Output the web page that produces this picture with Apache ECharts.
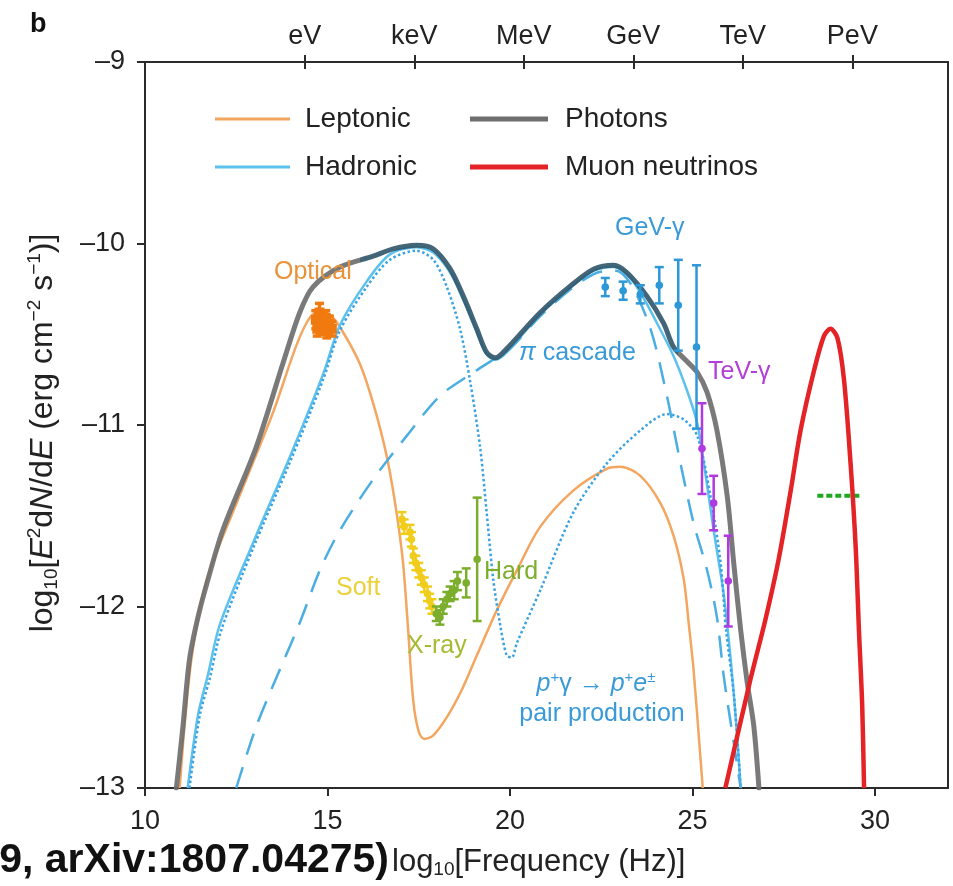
<!DOCTYPE html>
<html><head><meta charset="utf-8">
<script src="https://cdn.jsdelivr.net/npm/echarts@6/dist/echarts.min.js"></script>
<style>html,body{margin:0;padding:0;background:#fff}#c{width:953px;height:886px}</style>
</head><body><div id="c"></div>
<script>
const FONT = '"Liberation Sans", Arial, Helvetica, sans-serif';

// bottom frequency axis ticks
const freqTicks = [10, 15, 20, 25, 30];
// top energy axis
const energyTicks = [14.38, 17.38, 20.38, 23.38, 26.38, 29.38];
const energyLabels = ['eV', 'keV', 'MeV', 'GeV', 'TeV', 'PeV'];

// model curves [log10 freq, log10 E^2 dN/dE]
const leptonic = [[10.95,-13],[11.1,-12.62],[11.3,-12.25],[11.68,-11.86],[12.59,-11.39],[13.51,-10.93],[14.15,-10.56],[14.51,-10.41],[14.79,-10.37],[15.05,-10.39],[15.34,-10.46],[15.88,-10.66],[16.25,-10.88],[16.62,-11.17],[16.89,-11.48],[17.07,-11.76],[17.21,-12.13],[17.35,-12.52],[17.5,-12.69],[17.65,-12.73],[17.9,-12.71],[18.3,-12.6],[18.7,-12.45],[19.09,-12.27],[19.64,-12.02],[20.19,-11.8],[20.83,-11.56],[21.74,-11.36],[22.66,-11.24],[23.02,-11.23],[23.57,-11.28],[24.12,-11.43],[24.48,-11.61],[24.76,-11.85],[24.9,-12.1],[25.03,-12.35],[25.22,-12.84],[25.28,-13]];
const hadronic = [[11.17,-13],[11.45,-12.6],[11.72,-12.38],[12.05,-12.1],[12.98,-11.64],[13.96,-11.18],[14.88,-10.72],[15.34,-10.45],[16.07,-10.21],[16.71,-10.06],[17.44,-10.02],[17.9,-10.05],[18.36,-10.16],[18.72,-10.31],[19.09,-10.49],[19.36,-10.61],[19.6,-10.64],[19.91,-10.6],[20.83,-10.39],[21.74,-10.23],[22.3,-10.15],[22.84,-10.13],[23.2,-10.17],[23.57,-10.27],[24.03,-10.44],[24.48,-10.62],[24.85,-10.81],[25.13,-10.99],[25.31,-11.21],[25.58,-11.58],[25.86,-11.94],[26.05,-12.3],[26.2,-12.65],[26.32,-13]];
const pairProd = [[11.22,-13],[11.5,-12.6],[11.77,-12.4],[12.09,-12.13],[12.98,-11.67],[13.96,-11.21],[14.88,-10.75],[15.34,-10.48],[16.07,-10.24],[16.71,-10.09],[17.44,-10.04],[17.9,-10.09],[18.27,-10.24],[18.63,-10.47],[18.9,-10.75],[19.18,-11.12],[19.36,-11.48],[19.54,-11.85],[19.73,-12.1],[19.91,-12.27],[20.05,-12.28],[20.19,-12.2],[20.83,-11.91],[21.74,-11.48],[22.66,-11.21],[23.57,-11.03],[24.3,-10.94],[24.76,-10.97],[25.13,-11.06],[25.49,-11.39],[25.77,-11.76],[25.92,-12.13],[26.13,-12.48],[26.32,-13]];
const piCascade = [[12.5,-13],[13.05,-12.66],[13.69,-12.35],[14.24,-12.09],[14.79,-11.8],[15.34,-11.58],[16.25,-11.3],[17.17,-11.06],[18.08,-10.84],[19.0,-10.71],[19.54,-10.64],[20.0,-10.58],[20.83,-10.4],[21.74,-10.24],[22.4,-10.16],[22.9,-10.15],[23.3,-10.22],[23.85,-10.47],[24.3,-10.84],[24.67,-11.21],[25.03,-11.54],[25.4,-11.8],[25.67,-12.06],[25.86,-12.39],[26.13,-12.75],[26.32,-13]];
const photons = [[10.86,-13],[11.04,-12.66],[11.22,-12.29],[11.45,-12.06],[11.7,-11.87],[12.13,-11.58],[13.05,-11.12],[13.78,-10.66],[14.24,-10.38],[14.6,-10.24],[15.34,-10.13],[16.25,-10.07],[16.8,-10.03],[17.44,-10.01],[17.9,-10.03],[18.36,-10.14],[18.72,-10.29],[19.09,-10.47],[19.36,-10.6],[19.6,-10.63],[19.91,-10.58],[20.83,-10.38],[21.74,-10.22],[22.3,-10.14],[22.84,-10.12],[23.2,-10.16],[23.75,-10.29],[24.21,-10.44],[24.48,-10.57],[24.85,-10.65],[25.13,-10.71],[25.4,-10.82],[25.67,-11.03],[25.95,-11.39],[26.13,-11.76],[26.32,-12.13],[26.5,-12.42],[26.68,-12.66],[26.82,-13]];
const neutrinos = [[25.9,-13],[26.59,-12.4],[27.0,-12.07],[27.36,-11.74],[27.7,-11.35],[27.96,-11.03],[28.33,-10.7],[28.6,-10.51],[28.78,-10.47],[28.97,-10.52],[29.15,-10.75],[29.33,-11.21],[29.47,-11.67],[29.56,-12.13],[29.65,-12.55],[29.7,-13]];
const nuLimit = [[28.42,-11.39],[29.61,-11.39]];

// data points [x, y, error]
const optical = [[14.68,-10.42,0.05],[14.78,-10.38,0.05],[14.85,-10.45,0.05],[14.95,-10.41,0.04],[15.05,-10.44,0.04],[15.12,-10.47,0.04],[14.72,-10.47,0.04],[14.98,-10.48,0.04]];
const softX = [[17.04,-11.52,0.04],[17.1,-11.56,0.04],[17.26,-11.59,0.04],[17.3,-11.63,0.04],[17.35,-11.72,0.04],[17.42,-11.76,0.04],[17.5,-11.8,0.04],[17.57,-11.84,0.04],[17.65,-11.88,0.04],[17.74,-11.93,0.04],[17.8,-11.97,0.04],[17.86,-12.0,0.04]];
const hardX = [[17.98,-12.04,0.04],[18.08,-12.06,0.04],[18.17,-12.0,0.04],[18.27,-11.96,0.04],[18.36,-11.93,0.04],[18.47,-11.91,0.05],[18.56,-11.86,0.05],[18.8,-11.87,0.08],[19.1,-11.74,0.34]];
const gevGamma = [[22.61,-10.24,0.05],[23.1,-10.26,0.05],[23.57,-10.28,0.05],[24.09,-10.23,0.1],[24.61,-10.34,0.25],[25.11,-10.57,0.45]];
const tevGamma = [[25.26,-11.13,0.25],[25.58,-11.43,0.15],[25.98,-11.86,0.25]];

const C = {
  lep: '#f2a660', had: '#5cc1ec', pair: '#3aa2e2', casc: '#4aaee2', pho: '#6e6e6e', phoDark: '#33586c',
  nu: '#e32326', lim: '#1fa81f', opt: '#f07a10', soft: '#f0cc1c', hard: '#7bae2c', gev: '#2c98d8', tev: '#b03ae0'
};

function errSeries(name, data, color, square) {
  return {
    type: 'custom', name, data, z: 5,
    encode: { x: 0, y: 1 },
    renderItem: function (params, api) {
      const x = api.value(0), y = api.value(1), e = api.value(2);
      const p = api.coord([x, y]);
      const t = api.coord([x, y + e]);
      const b = api.coord([x, y - e]);
      const cw = 4.5;
      const st = { stroke: color, lineWidth: square ? 3.5 : 2.5 };
      const ch = [
        { type: 'line', shape: { x1: p[0], y1: t[1], x2: p[0], y2: b[1] }, style: st },
        { type: 'line', shape: { x1: p[0] - cw, y1: t[1], x2: p[0] + cw, y2: t[1] }, style: st },
        { type: 'line', shape: { x1: p[0] - cw, y1: b[1], x2: p[0] + cw, y2: b[1] }, style: st }
      ];
      if (square) ch.push({ type: 'rect', shape: { x: p[0] - 5, y: p[1] - 5, width: 10, height: 10 }, style: { fill: color } });
      else ch.push({ type: 'circle', shape: { cx: p[0], cy: p[1], r: 3.8 }, style: { fill: color } });
      return { type: 'group', children: ch };
    }
  };
}

function lineSeries(name, data, color, width, type, extra) {
  return Object.assign({
    type: 'line', name, data, symbol: 'none', smooth: 0.3,
    lineStyle: { color, width, type: type || 'solid', cap: 'butt', join: 'round' }, itemStyle: { color },
    emphasis: { disabled: true }, z: 3
  }, extra || {});
}

const supStyle = (col, fs) => ({ fontSize: fs, fontFamily: FONT, fill: col, color: col, verticalAlign: 'top', lineHeight: fs });

const chart = echarts.init(document.getElementById('c'), null, { renderer: 'canvas' });
chart.setOption({
  animation: false,
  backgroundColor: '#fff',
  grid: { left: 145, right: 5, top: 62, bottom: 98, show: false },
  xAxis: [
    { type: 'value', min: 10, max: 32, position: 'bottom', splitLine: { show: false },
      axisLine: { onZero: false, lineStyle: { color: '#2b2b2b', width: 2 } },
      axisTick: { length: 8, customValues: freqTicks, lineStyle: { color: '#2b2b2b', width: 2 } },
      axisLabel: { fontSize: 27, fontFamily: FONT, color: '#222', margin: 20, customValues: freqTicks,
        formatter: v => String(v) } },
    { type: 'value', min: 10, max: 32, position: 'top', splitLine: { show: false },
      axisLine: { onZero: false, lineStyle: { color: '#2b2b2b', width: 2 } },
      axisTick: { length: 7, customValues: energyTicks, lineStyle: { color: '#2b2b2b', width: 2 } },
      axisLabel: { fontSize: 27, fontFamily: FONT, color: '#222', margin: 12, customValues: energyTicks,
        formatter: v => { const i = energyTicks.findIndex(t => Math.abs(t - v) < 1e-6); return i >= 0 ? energyLabels[i] : ''; } } },
    { type: 'value', min: 10, max: 32, position: 'top', splitLine: { show: false },
      axisLine: { show: false },
      axisTick: { inside: true, length: 7, customValues: energyTicks, lineStyle: { color: '#2b2b2b', width: 2 } },
      axisLabel: { show: false } }
  ],
  yAxis: [
    { type: 'value', min: -13, max: -9, interval: 1, position: 'left', splitLine: { show: false },
      axisLine: { show: true, onZero: false, lineStyle: { color: '#2b2b2b', width: 2 } },
      axisTick: { show: true, length: 8, lineStyle: { color: '#2b2b2b', width: 2 } },
      axisLabel: { fontSize: 27, fontFamily: FONT, color: '#222', margin: 20,
        formatter: v => '\u2013' + Math.abs(v) } },
    { type: 'value', min: -13, max: -9, position: 'right', splitLine: { show: false },
      axisLine: { show: true, onZero: false, lineStyle: { color: '#2b2b2b', width: 2 } },
      axisTick: { show: false }, axisLabel: { show: false } }
  ],
  legend: [
    { orient: 'vertical', left: 210, top: 100, itemWidth: 75, itemHeight: 3, itemGap: 20,
      textStyle: { fontSize: 28, fontFamily: FONT, color: '#222', padding: [0, 0, 0, 10] },
      data: [{ name: 'Leptonic', icon: 'rect', itemStyle: { color: C.lep } },
             { name: 'Hadronic', icon: 'rect', itemStyle: { color: C.had } }],
      selectedMode: false },
    { orient: 'vertical', left: 465, top: 100, itemWidth: 78, itemHeight: 5, itemGap: 20,
      textStyle: { fontSize: 28, fontFamily: FONT, color: '#222', padding: [0, 0, 0, 12] },
      data: [{ name: 'Photons', icon: 'rect', itemStyle: { color: C.pho } },
             { name: 'Muon neutrinos', icon: 'rect', itemStyle: { color: C.nu } }],
      selectedMode: false }
  ],
  visualMap: [{ type: 'piecewise', show: false, seriesIndex: 4, dimension: 0,
    pieces: [{ lt: 15.9, color: C.pho }, { gte: 15.9, lt: 24.6, color: C.phoDark }, { gte: 24.6, color: C.pho }] }],
  series: [
    lineSeries('Leptonic', leptonic, C.lep, 2.5),
    lineSeries('Hadronic', hadronic, C.had, 2.5),
    lineSeries('pair', pairProd, C.pair, 2.5, [2.5, 2.5]),
    lineSeries('cascade', piCascade, C.casc, 2.5, [22, 13]),
    lineSeries('Photons', photons, C.pho, 5, 'solid', { z: 4, lineStyle: { width: 5, cap: 'round', join: 'round', opacity: 0.92 } }),
    lineSeries('Muon neutrinos', neutrinos, C.nu, 4.5, 'solid', { z: 4 }),
    lineSeries('limit', nuLimit, C.lim, 4, [6, 3], { smooth: false }),
    errSeries('Optical', optical, C.opt, true),
    errSeries('Soft X-ray', softX, C.soft, false),
    errSeries('Hard X-ray', hardX, C.hard, false),
    errSeries('GeV-gamma', gevGamma, C.gev, false),
    errSeries('TeV-gamma', tevGamma, C.tev, false)
  ],
  graphic: [
    { type: 'text', x: 30, y: 11, style: { text: 'b', font: 'bold 27px ' + FONT, fill: '#111' } },
    { type: 'text', x: 389, y: 861, style: { text: '9, arXiv:1807.04275)', font: 'bold 41px ' + FONT, fill: '#111', align: 'right', verticalAlign: 'middle', textAlign: 'right', textVerticalAlign: 'middle' } },
    { type: 'text', x: 392, y: 862, style: {
        text: '{n|log}{s|10}{n|[Frequency (Hz)]}', align: 'left', verticalAlign: 'middle', textAlign: 'left', textVerticalAlign: 'middle',
        rich: { n: { fontSize: 31, fontFamily: FONT, fill: '#222', color: '#222', lineHeight: 35 },
                s: { fontSize: 19, fontFamily: FONT, fill: '#222', color: '#222', verticalAlign: 'bottom', lineHeight: 17 } } } },
    { type: 'text', x: 43, y: 433, rotation: Math.PI / 2, style: {
        text: '{n|log}{s|10}{n|[}{i|E}{p|2}{n|d}{i|N}{n|/d}{i|E}{n| (erg cm}{p|\u22122}{n| s}{p|\u22121}{n|)]}',
        align: 'center', verticalAlign: 'middle', textAlign: 'center', textVerticalAlign: 'middle',
        rich: { n: { fontSize: 32, fontFamily: FONT, fill: '#222', color: '#222', lineHeight: 36 },
                i: { fontSize: 32, fontFamily: FONT, fontStyle: 'italic', fill: '#222', color: '#222', lineHeight: 36 },
                s: { fontSize: 19, fontFamily: FONT, fill: '#222', color: '#222', verticalAlign: 'bottom', lineHeight: 18 },
                p: supStyle('#222', 19) } } },
    { type: 'text', x: 274, y: 272, z: 10, style: { text: 'Optical', font: '25px ' + FONT, fill: '#e8923a', verticalAlign: 'middle', textVerticalAlign: 'middle' } },
    { type: 'text', x: 336, y: 588, z: 10, style: { text: 'Soft', font: '25px ' + FONT, fill: '#ecd038', verticalAlign: 'middle', textVerticalAlign: 'middle' } },
    { type: 'text', x: 407, y: 646, z: 10, style: { text: 'X-ray', font: '25px ' + FONT, fill: '#a6ba34', verticalAlign: 'middle', textVerticalAlign: 'middle' } },
    { type: 'text', x: 484, y: 572, z: 10, style: { text: 'Hard', font: '25px ' + FONT, fill: '#7bae2c', verticalAlign: 'middle', textVerticalAlign: 'middle' } },
    { type: 'text', x: 615, y: 228, z: 10, style: { text: 'GeV-\u03b3', font: '25px ' + FONT, fill: '#3a9ad8', verticalAlign: 'middle', textVerticalAlign: 'middle' } },
    { type: 'text', x: 519, y: 353, z: 10, style: {
        text: '{i|\u03c0}{n| cascade}', verticalAlign: 'middle', textVerticalAlign: 'middle',
        rich: { n: { fontSize: 25, fontFamily: FONT, fill: '#3a9ad8', color: '#3a9ad8' },
                i: { fontSize: 25, fontFamily: FONT, fontStyle: 'italic', fill: '#3a9ad8', color: '#3a9ad8' } } } },
    { type: 'text', x: 708, y: 372, z: 10, style: { text: 'TeV-\u03b3', font: '25px ' + FONT, fill: '#b040d8', verticalAlign: 'middle', textVerticalAlign: 'middle' } },
    { type: 'text', x: 596, y: 684, z: 10, style: {
        text: '{i|p}{p|+}{n|\u03b3 \u2192 }{i|p}{p|+}{i|e}{p|\u00b1}', align: 'center', verticalAlign: 'middle', textAlign: 'center', textVerticalAlign: 'middle',
        rich: { n: { fontSize: 25, fontFamily: FONT, fill: '#3a9ad8', color: '#3a9ad8', lineHeight: 28 },
                i: { fontSize: 25, fontFamily: FONT, fontStyle: 'italic', fill: '#3a9ad8', color: '#3a9ad8', lineHeight: 28 },
                p: supStyle('#3a9ad8', 15) } } },
    { type: 'text', x: 602, y: 714, z: 10, style: { text: 'pair production', font: '25px ' + FONT, fill: '#3a9ad8', align: 'center', verticalAlign: 'middle', textAlign: 'center', textVerticalAlign: 'middle' } }
  ]
});
</script></body></html>
